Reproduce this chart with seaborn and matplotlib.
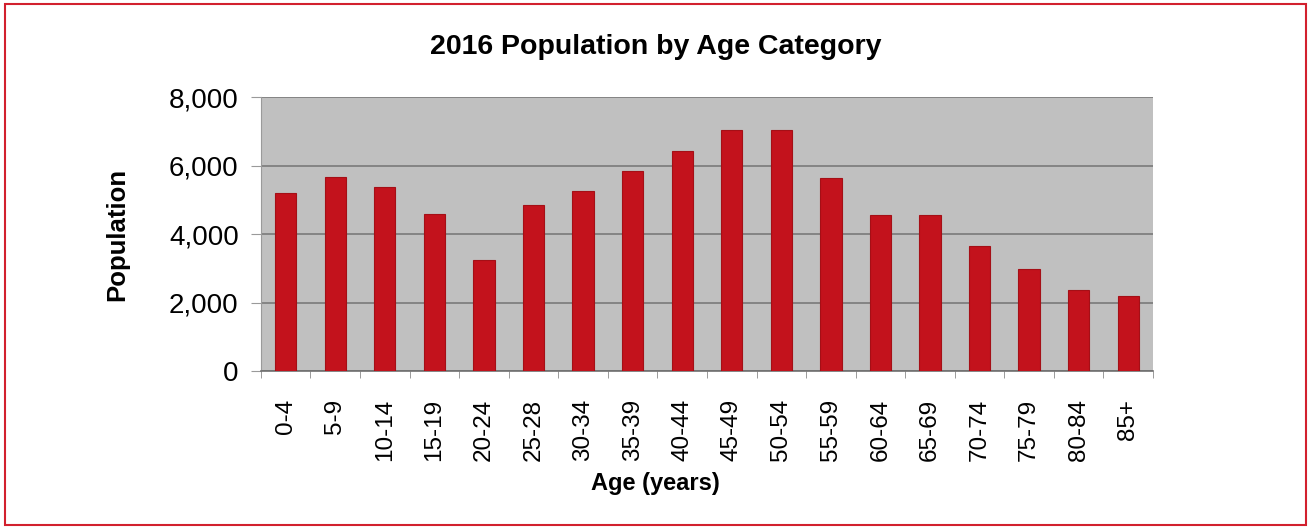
import pandas as pd
import matplotlib
matplotlib.use('Agg')
import matplotlib.pyplot as plt
import seaborn as sns
from matplotlib.patches import Rectangle

age_groups = ['0-4', '5-9', '10-14', '15-19', '20-24', '25-28', '30-34', '35-39',
              '40-44', '45-49', '50-54', '55-59', '60-64', '65-69', '70-74',
              '75-79', '80-84', '85+']
population = [5200, 5660, 5380, 4580, 3240, 4840, 5260, 5850,
              6430, 7040, 7040, 5640, 4570, 4570, 3650,
              2970, 2380, 2190]

df = pd.DataFrame({'Age': age_groups, 'Population': population})

plt.rcParams['font.family'] = ['Liberation Sans', 'DejaVu Sans']

fig = plt.figure(figsize=(13.11, 5.28), dpi=100)
ax = fig.add_axes([0.199, 0.297, 0.6805, 0.519])

sns.barplot(data=df, x='Age', y='Population', color='#c3121c', saturation=1,
            width=0.43, edgecolor='#a50f16', linewidth=0.8, ax=ax, zorder=3)

ax.set_facecolor('#c0c0c0')
ax.set_xlim(-0.5, len(age_groups) - 0.5)
ax.set_ylim(0, 8000)
ax.set_yticks([0, 2000, 4000, 6000, 8000])
ax.set_yticklabels(['{:,}'.format(v) for v in [0, 2000, 4000, 6000, 8000]], fontsize=20)
ax.grid(axis='y', color='#7a7a7a', linewidth=1.2, zorder=1)
ax.set_axisbelow(True)

for s in ['top', 'right']:
    ax.spines[s].set_visible(False)
ax.spines['left'].set_color('#9a9a9a')
ax.spines['bottom'].set_color('#6f6f6f')
ax.spines['bottom'].set_linewidth(1.2)

# category boundary ticks, like the spreadsheet chart
ax.set_xticks([i - 0.5 for i in range(len(age_groups) + 1)], minor=True)
ax.tick_params(axis='x', which='minor', length=5, color='#8a8a8a', direction='out')
ax.tick_params(axis='x', which='major', length=0, pad=20)
ax.set_xticks(range(len(age_groups)))
ax.set_xticklabels(age_groups, rotation=90, fontsize=17.5)
ax.tick_params(axis='y', length=7, color='#9a9a9a', pad=9)

ax.set_xlabel('Age (years)', fontsize=17, fontweight='bold')
ax.xaxis.set_label_coords(0.442, -0.409)
ax.xaxis.label.set_va('center')
ax.set_ylabel('Population', fontsize=18.5, fontweight='bold')
ax.yaxis.set_label_coords(-0.161, 0.5)
ax.yaxis.label.set_va('center')

fig.text(0.5, 0.911, '2016 Population by Age Category', ha='center', va='center',
         fontsize=20.5, fontweight='bold')

fig.patches.append(Rectangle((0.004, 0.006), 0.992, 0.986, transform=fig.transFigure,
                             fill=False, edgecolor='#d2202e', linewidth=1.5))

fig.savefig('out.png', dpi=100)
